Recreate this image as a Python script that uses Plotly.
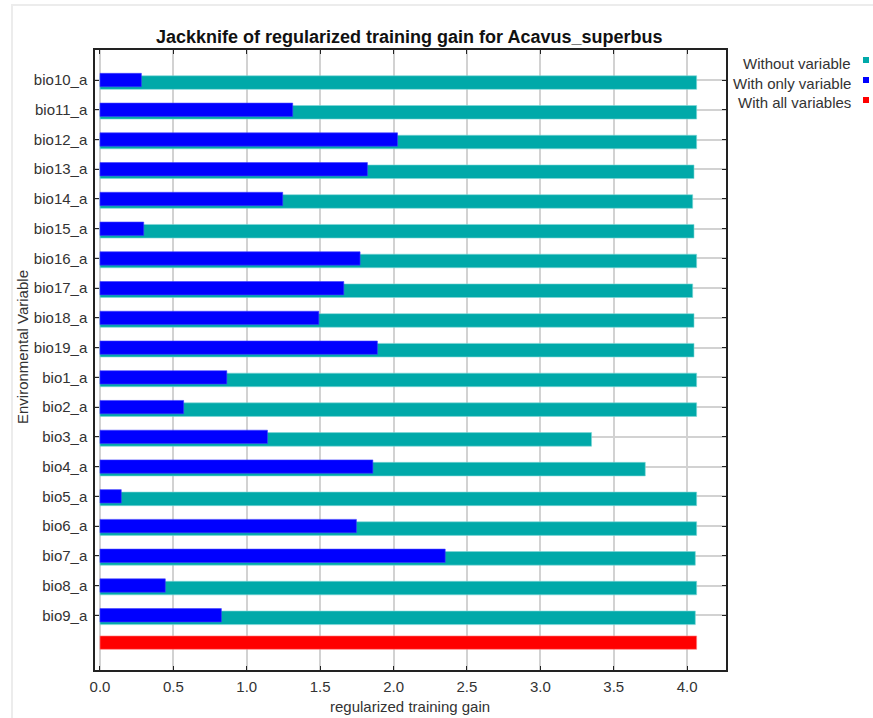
import plotly.graph_objects as go

# Jackknife results for Acavus_superbus (regularized training gain)
variables = [
    "bio10_a", "bio11_a", "bio12_a", "bio13_a", "bio14_a", "bio15_a", "bio16_a",
    "bio17_a", "bio18_a", "bio19_a", "bio1_a", "bio2_a", "bio3_a", "bio4_a",
    "bio5_a", "bio6_a", "bio7_a", "bio8_a", "bio9_a",
]
without_variable = [
    4.065, 4.065, 4.065, 4.047, 4.038, 4.047, 4.065, 4.038, 4.047, 4.047,
    4.065, 4.065, 3.349, 3.715, 4.065, 4.065, 4.056, 4.065, 4.056,
]
with_only_variable = [
    0.282, 1.313, 2.027, 1.822, 1.245, 0.298, 1.772, 1.661, 1.491, 1.890,
    0.864, 0.570, 1.141, 1.859, 0.145, 1.747, 2.352, 0.445, 0.827,
]
with_all_variables = 4.065

TEAL = "#00A9A9"
BLUE = "#0000FF"
RED = "#FF0000"
FONT = "Liberation Sans, Arial, sans-serif"
TXT = "#333333"

W, H = 873, 718
L, R, T, B = 95, 147, 50, 48
PW, PH = W - L - R, H - T - B


def px(x):
    return (x - L) / PW


def py(y):
    return (H - B - y) / PH


pos = list(range(len(variables)))
teal_pos = [p + 0.085 for p in pos]
all_pos = len(variables) - 0.08

fig = go.Figure()
fig.add_trace(go.Bar(
    x=without_variable, y=teal_pos, orientation="h", width=0.457,
    marker=dict(color=TEAL, line=dict(color="#7fd6d6", width=0.6)),
    name="Without variable", showlegend=False,
))
fig.add_trace(go.Bar(
    x=with_only_variable, y=pos, orientation="h", width=0.45,
    marker=dict(color=BLUE, line=dict(color="#4040ff", width=0.6)),
    name="With only variable", showlegend=False,
))
fig.add_trace(go.Bar(
    x=[with_all_variables], y=[all_pos], orientation="h", width=0.45,
    marker=dict(color=RED, line=dict(color="#ff7f7f", width=0.6)),
    name="With all variables", showlegend=False,
))

fig.update_layout(
    width=W, height=H,
    margin=dict(l=L, r=R, t=T, b=B, pad=0),
    paper_bgcolor="white", plot_bgcolor="white",
    barmode="overlay",
    font=dict(family=FONT, size=15, color=TXT),
    xaxis=dict(
        range=[-0.034, 4.265], tickvals=[0, 0.5, 1, 1.5, 2, 2.5, 3, 3.5, 4],
        ticktext=["0.0", "0.5", "1.0", "1.5", "2.0", "2.5", "3.0", "3.5", "4.0"],
        showgrid=True, gridcolor="#d2d2d2", gridwidth=1.5,
        zeroline=False, showline=True, linecolor="#222", linewidth=1.5,
        mirror="ticks", ticks="inside", ticklen=4, tickcolor="#222",
        tickfont=dict(size=15, color=TXT), ticklabelstandoff=2,
    ),
    yaxis=dict(
        range=[len(variables) + 0.84, -1.01], tickvals=pos, ticktext=variables,
        showgrid=True, gridcolor="#d2d2d2", gridwidth=1.5,
        zeroline=False, showline=True, linecolor="#222", linewidth=1.5,
        mirror="ticks", ticks="inside", ticklen=4, tickcolor="#222",
        tickfont=dict(size=15, color=TXT), ticklabelstandoff=3,
    ),
)

annotations = [
    dict(text="<b>Jackknife of regularized training gain for Acavus_superbus</b>",
         x=px(409), y=py(37), xref="paper", yref="paper", showarrow=False,
         xanchor="center", yanchor="middle", font=dict(size=18, color="#111")),
    dict(text="regularized training gain", x=px(410), y=py(707),
         xref="paper", yref="paper", showarrow=False,
         xanchor="center", yanchor="middle", font=dict(size=15, color=TXT)),
    dict(text="Environmental Variable", x=px(22), y=py(347), textangle=-90,
         xref="paper", yref="paper", showarrow=False,
         xanchor="center", yanchor="middle", font=dict(size=15, color=TXT)),
]

shapes = [
    dict(type="rect", xref="paper", yref="paper",
         x0=px(12), x1=px(W + 10), y0=py(H + 10), y1=py(5),
         line=dict(color="#ececec", width=2), fillcolor="rgba(0,0,0,0)", layer="below"),
]

legend_items = [("Without variable", TEAL, 63), ("With only variable", BLUE, 83),
                ("With all variables", RED, 103)]
for label, color, yc in legend_items:
    annotations.append(dict(text=label, x=px(853), y=py(yc), xref="paper", yref="paper",
                            showarrow=False, xanchor="right", yanchor="middle",
                            font=dict(size=15, color=TXT)))
    shapes.append(dict(type="rect", xref="paper", yref="paper",
                       x0=px(863), x1=px(869), y0=py(yc), y1=py(yc - 6),
                       line=dict(width=0), fillcolor=color))

fig.update_layout(annotations=annotations, shapes=shapes)
fig.write_html("out.html")
